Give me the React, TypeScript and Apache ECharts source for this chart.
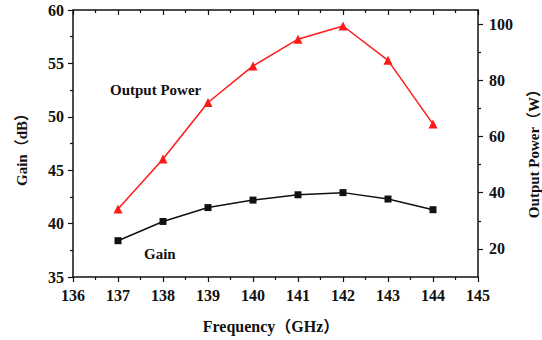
import React, { useEffect, useRef } from "react";
import * as echarts from "echarts";

const frequencies = [137, 138, 139, 140, 141, 142, 143, 144];
const gainValues = [38.4, 40.2, 41.5, 42.2, 42.7, 42.9, 42.3, 41.3];
const powerValues = [34.2, 52, 72.1, 85.1, 94.6, 99.3, 87.1, 64.4];
const powerMajorTicks = [20, 40, 60, 80, 100];
const powerMinorTicks = [30, 50, 70, 90];

const FONT = "'Liberation Serif', 'Times New Roman', 'Noto Sans CJK SC', serif";

export default function App() {
  const ref = useRef<HTMLDivElement>(null);
  useEffect(() => {
    if (!ref.current) return;
    const chart = echarts.init(ref.current, null, { renderer: "svg" });
    const labelStyle = { fontFamily: FONT, fontWeight: "bold" as const, fontSize: 16, color: "#111" };
    chart.setOption({
      animation: false,
      grid: { left: 73, top: 10, right: 64, bottom: 63 },
      xAxis: [
        {
          type: "value",
          min: 136,
          max: 145,
          interval: 1,
          position: "bottom",
          axisLine: { show: true, lineStyle: { color: "#111", width: 1.5 } },
          axisTick: { show: true, inside: false, length: 5, lineStyle: { color: "#111", width: 1.2 } },
          minorTick: { show: true, splitNumber: 2, length: 3, lineStyle: { color: "#111", width: 1.2 } },
          axisLabel: { ...labelStyle, margin: 10 },
          splitLine: { show: false },
        },
        {
          type: "value",
          min: 136,
          max: 145,
          interval: 1,
          position: "top",
          axisLine: { show: true, lineStyle: { color: "#111", width: 1.5 } },
          axisTick: { show: true, inside: true, length: 5, lineStyle: { color: "#111", width: 1.2 } },
          minorTick: { show: true, splitNumber: 2, length: 3, lineStyle: { color: "#111", width: 1.2 } },
          axisLabel: { show: false },
          splitLine: { show: false },
        },
      ],
      yAxis: [
        {
          type: "value",
          min: 35,
          max: 60,
          interval: 5,
          position: "left",
          axisLine: { show: true, lineStyle: { color: "#111", width: 1.5 } },
          axisTick: { show: true, inside: false, length: 5, lineStyle: { color: "#111", width: 1.2 } },
          minorTick: { show: true, splitNumber: 2, length: 3, lineStyle: { color: "#111", width: 1.2 } },
          axisLabel: { ...labelStyle, margin: 9 },
          splitLine: { show: false },
        },
        {
          type: "value",
          min: 10,
          max: 105,
          position: "right",
          axisLine: { show: true, onZero: false, lineStyle: { color: "#111", width: 1.5 } },
          axisTick: { show: true, inside: false, length: 5, customValues: powerMajorTicks, lineStyle: { color: "#111", width: 1.2 } },
          axisLabel: { ...labelStyle, margin: 11, customValues: powerMajorTicks },
          splitLine: { show: false },
        },
        {
          type: "value",
          min: 10,
          max: 105,
          position: "right",
          axisLine: { show: false },
          axisTick: { show: true, inside: false, length: 3, customValues: powerMinorTicks, lineStyle: { color: "#111", width: 1.2 } },
          axisLabel: { show: false, customValues: powerMinorTicks },
          splitLine: { show: false },
        },
      ],
      series: [
        {
          name: "Gain",
          type: "line",
          xAxisIndex: 0,
          yAxisIndex: 0,
          data: frequencies.map((f, i) => [f, gainValues[i]]),
          symbol: "rect",
          symbolSize: 7,
          lineStyle: { color: "#111", width: 1.5 },
          itemStyle: { color: "#111" },
        },
        {
          name: "Output Power",
          type: "line",
          xAxisIndex: 0,
          yAxisIndex: 1,
          data: frequencies.map((f, i) => [f, powerValues[i]]),
          symbol: "triangle",
          symbolSize: 9,
          lineStyle: { color: "#ff1a1a", width: 1.5 },
          itemStyle: { color: "#ff1a1a" },
        },
      ],
      graphic: [
        {
          type: "text",
          x: 110,
          y: 90,
          style: { text: "Output Power", font: `bold 15px ${FONT}`, fill: "#111", verticalAlign: "middle" },
        },
        {
          type: "text",
          x: 144,
          y: 254,
          style: { text: "Gain", font: `bold 15px ${FONT}`, fill: "#111", verticalAlign: "middle" },
        },
        {
          type: "text",
          x: 271,
          y: 326,
          style: { text: "Frequency（GHz）", font: `bold 16px ${FONT}`, fill: "#111", align: "center", verticalAlign: "middle" },
        },
        {
          type: "text",
          x: 22,
          y: 146,
          rotation: Math.PI / 2,
          style: { text: "Gain（dB）", font: `bold 15px ${FONT}`, fill: "#111", align: "center", verticalAlign: "middle" },
        },
        {
          type: "text",
          x: 534,
          y: 150,
          rotation: Math.PI / 2,
          style: { text: "Output Power（W）", font: `bold 15px ${FONT}`, fill: "#111", align: "center", verticalAlign: "middle" },
        },
      ],
    });
    return () => chart.dispose();
  }, []);
  return <div ref={ref} style={{ width: 542, height: 340, position: "absolute", left: 0, top: 0 }} />;
}
